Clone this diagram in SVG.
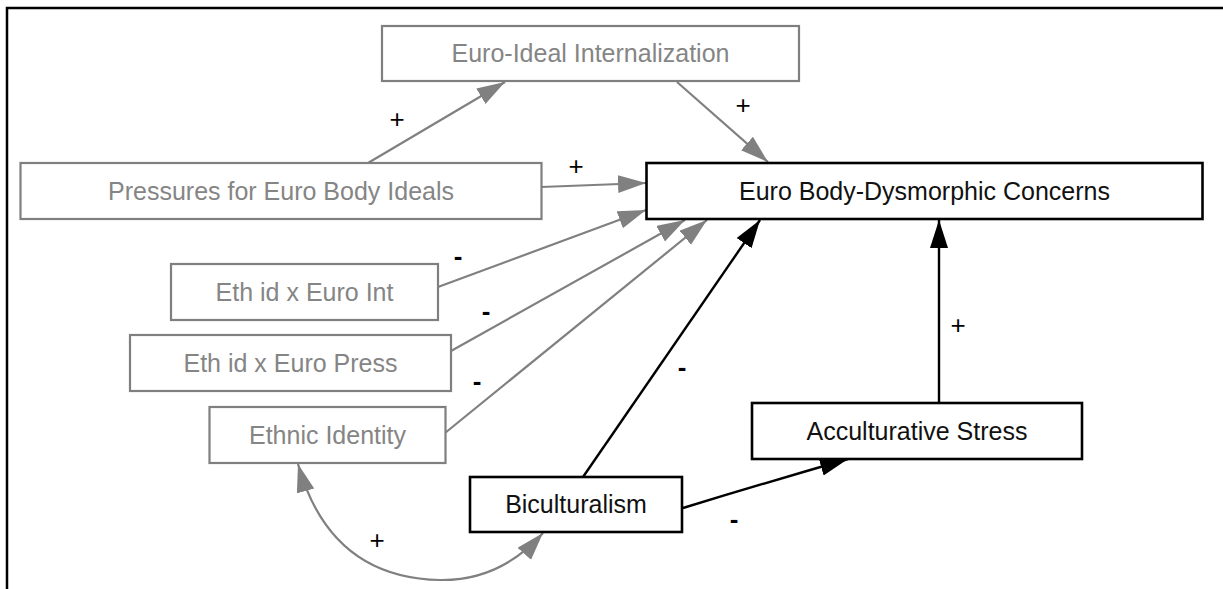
<svg xmlns="http://www.w3.org/2000/svg" width="1223" height="589" viewBox="0 0 1223 589">
<style>
.bg{fill:#fff}
.g rect{fill:#fff;stroke:#7f7f7f;stroke-width:2.2}
.g text{fill:#858585}
.b rect{fill:#fff;stroke:#000;stroke-width:2.6}
.b text{fill:#111}
text{font-family:"Liberation Sans",Arial,sans-serif;font-size:25px;text-anchor:middle}
.gl{fill:none;stroke:#808080;stroke-width:2.2}
.bl{fill:none;stroke:#000;stroke-width:2.4}
text.lab{font-size:26px;fill:#000}
text.neg{font-weight:bold}
</style>
<defs>
<marker id="ag" markerUnits="userSpaceOnUse" markerWidth="30" markerHeight="20" refX="28" refY="9" orient="auto-start-reverse">
<path d="M0,0 L28,9 L0,18 z" fill="#808080"/>
</marker>
<marker id="ab" markerUnits="userSpaceOnUse" markerWidth="30" markerHeight="20" refX="28" refY="9" orient="auto-start-reverse">
<path d="M0,0 L28,9 L0,18 z" fill="#000"/>
</marker>
</defs>
<rect class="bg" x="0" y="0" width="1223" height="589"/>
<path d="M7,589 L7,8 L1223,8" fill="none" stroke="#000" stroke-width="2.5"/>
<g id="connectors">
<path class="gl" d="M368,163 L505,82" marker-end="url(#ag)"/>
<path class="gl" d="M677,82 L768,162" marker-end="url(#ag)"/>
<path class="gl" d="M541,187 L646,183" marker-end="url(#ag)"/>
<path class="gl" d="M438,287 L646,210" marker-end="url(#ag)"/>
<path class="gl" d="M451,351 L685,220" marker-end="url(#ag)"/>
<path class="gl" d="M445,433 L707,220" marker-end="url(#ag)"/>
<path class="bl" d="M583,477 L760,220" marker-end="url(#ab)"/>
<path class="bl" d="M939,403 L939,220" marker-end="url(#ab)"/>
<path class="bl" d="M683,508 Q765,483 848,459" marker-end="url(#ab)"/>
<path class="gl" d="M298,464 Q330,578 440,580 Q500,581 543,533" marker-start="url(#ag)" marker-end="url(#ag)"/>
<text class="lab" x="397" y="128">+</text>
<text class="lab" x="743" y="114">+</text>
<text class="lab" x="576" y="175">+</text>
<text class="lab neg" x="458" y="265">-</text>
<text class="lab neg" x="486" y="320">-</text>
<text class="lab neg" x="477" y="390">-</text>
<text class="lab neg" x="682" y="376">-</text>
<text class="lab" x="958" y="334">+</text>
<text class="lab neg" x="734" y="528">-</text>
<text class="lab" x="377" y="549">+</text>
</g>
<g id="euro-ideal" class="g"><rect x="382" y="26" width="417" height="55"/><text x="590.5" y="62">Euro-Ideal Internalization</text></g>
<g id="pressures" class="g"><rect x="20.5" y="163" width="521" height="56"/><text x="281" y="200">Pressures for Euro Body Ideals</text></g>
<g id="ebdc" class="b"><rect x="646.5" y="163" width="556" height="56"/><text x="924.5" y="200">Euro Body-Dysmorphic Concerns</text></g>
<g id="eth-int" class="g"><rect x="171" y="264" width="267" height="56"/><text x="304.5" y="301">Eth id x Euro Int</text></g>
<g id="eth-press" class="g"><rect x="130" y="335" width="321" height="56"/><text x="290.5" y="372">Eth id x Euro Press</text></g>
<g id="ethnic-identity" class="g"><rect x="209.5" y="407" width="236" height="56"/><text x="327.5" y="444">Ethnic Identity</text></g>
<g id="biculturalism" class="b"><rect x="470" y="477" width="212" height="55"/><text x="576" y="513">Biculturalism</text></g>
<g id="acculturative-stress" class="b"><rect x="752" y="403" width="330" height="56"/><text x="917" y="440">Acculturative Stress</text></g>
</svg>
